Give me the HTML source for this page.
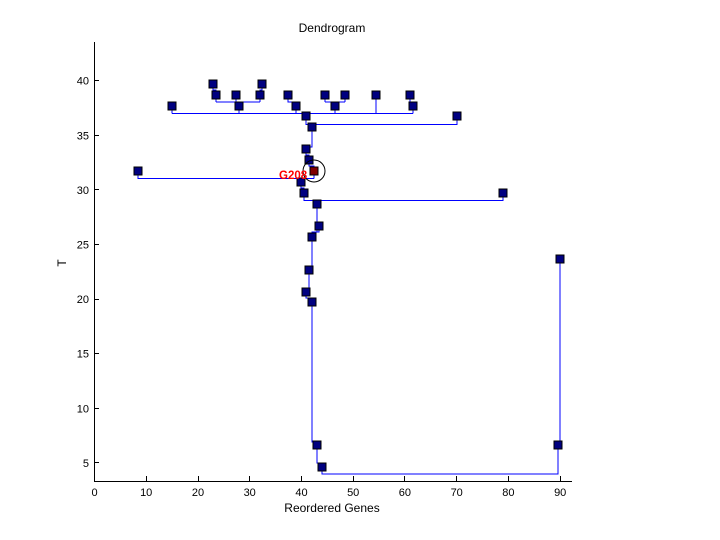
<!DOCTYPE html>
<html><head><meta charset="utf-8"><style>body{margin:0;background:#fff}svg{display:block}text{font-family:"Liberation Sans",sans-serif}</style></head><body>
<svg width="720" height="540" xmlns="http://www.w3.org/2000/svg" shape-rendering="crispEdges">
<rect width="720" height="540" fill="#fff"/>
<g stroke="#000" stroke-width="1" fill="none">
<line x1="94.5" y1="42" x2="94.5" y2="481.5"/>
<line x1="94" y1="481.5" x2="572" y2="481.5"/>
<path d="M94 80.5h5M94 135.5h5M94 189.5h5M94 244.5h5M94 299.5h5M94 353.5h5M94 408.5h5M94 462.5h5"/>
<path d="M94.5 481v-5M146.5 481v-5M198.5 481v-5M249.5 481v-5M301.5 481v-5M353.5 481v-5M404.5 481v-5M456.5 481v-5M508.5 481v-5M560.5 481v-5"/>
</g>
<g font-size="11" fill="#000" text-anchor="end">
<text x="89" y="84.7">40</text><text x="89" y="139.3">35</text><text x="89" y="193.9">30</text><text x="89" y="248.5">25</text><text x="89" y="303.1">20</text><text x="89" y="357.7">15</text><text x="89" y="412.3">10</text><text x="89" y="466.9">5</text>
</g>
<g font-size="11" fill="#000" text-anchor="middle">
<text x="94.5" y="496">0</text><text x="146.2" y="496">10</text><text x="198" y="496">20</text><text x="249.7" y="496">30</text><text x="301.5" y="496">40</text><text x="353.2" y="496">50</text><text x="404.9" y="496">60</text><text x="456.7" y="496">70</text><text x="508.4" y="496">80</text><text x="560.2" y="496">90</text>
<text x="332" y="32" font-size="12">Dendrogram</text>
<text x="332" y="512" font-size="12">Reordered Genes</text>
<text x="0" y="0" font-size="12" transform="translate(66,263) rotate(-90)">T</text>
</g>
<g stroke="#0000ff" stroke-width="1" fill="none">
<path d="M213 84V90H216V102M262 84V90H260V102M216 102H260M236 95V102M239 102V106"/>
<path d="M288 95V102H296V106"/>
<path d="M325 95V102M345 95V102M325 102H345M335 102V106"/>
<path d="M410 95V102H413V106"/>
<path d="M172 106V113.3M239 106V113.3M296 106V113.3M335 106V113.3M376 95V113.3M413 106V113.3M172 113.3H413M306 113.3V116"/>
<path d="M306 116V124.3H457V116M312 124.3V127"/>
<path d="M312 127V147H306V149"/>
<path d="M306 149V155H309V160"/>
<path d="M309 160V166H314V178.3"/>
<path d="M138 171V178.3H314M301 178.3V182"/>
<path d="M301 182V188H304V200.3H503V193M317 200.3V204"/>
<path d="M317 204V232H319V226M319 232H312V237"/>
<path d="M312 237V270H309V292M306 292V298H312V302"/>
<path d="M312 302V442H317V445V463H322V474H558V445M560 259V445H558"/>
</g>
<g fill="#000080" stroke="#000" stroke-width="1">
<rect x="209" y="80" width="8" height="8"/><rect x="258" y="80" width="8" height="8"/>
<rect x="212" y="91" width="8" height="8"/><rect x="232" y="91" width="8" height="8"/><rect x="256" y="91" width="8" height="8"/><rect x="284" y="91" width="8" height="8"/><rect x="321" y="91" width="8" height="8"/><rect x="341" y="91" width="8" height="8"/><rect x="372" y="91" width="8" height="8"/><rect x="406" y="91" width="8" height="8"/>
<rect x="168" y="102" width="8" height="8"/><rect x="235" y="102" width="8" height="8"/><rect x="292" y="102" width="8" height="8"/><rect x="331" y="102" width="8" height="8"/><rect x="409" y="102" width="8" height="8"/>
<rect x="302" y="112" width="8" height="8"/><rect x="453" y="112" width="8" height="8"/>
<rect x="308" y="123" width="8" height="8"/>
<rect x="302" y="145" width="8" height="8"/>
<rect x="305" y="156" width="8" height="8"/>
<rect x="134" y="167" width="8" height="8"/>
<rect x="297" y="178" width="8" height="8"/>
<rect x="300" y="189" width="8" height="8"/>
<rect x="499" y="189" width="8" height="8"/>
<rect x="313" y="200" width="8" height="8"/>
<rect x="315" y="222" width="8" height="8"/>
<rect x="308" y="233" width="8" height="8"/>
<rect x="305" y="266" width="8" height="8"/>
<rect x="302" y="288" width="8" height="8"/>
<rect x="308" y="298" width="8" height="8"/>
<rect x="313" y="441" width="8" height="8"/>
<rect x="318" y="463" width="8" height="8"/>
<rect x="556" y="255" width="8" height="8"/>
<rect x="554" y="441" width="8" height="8"/>
<rect x="310" y="167" width="8" height="8" fill="#800000"/>
</g>
<circle cx="314" cy="171" r="11" fill="none" stroke="#000" stroke-width="1" shape-rendering="auto"/>
<text x="279" y="179" font-size="11.5" font-weight="bold" fill="#ff0000">G208</text>
</svg>
</body></html>
